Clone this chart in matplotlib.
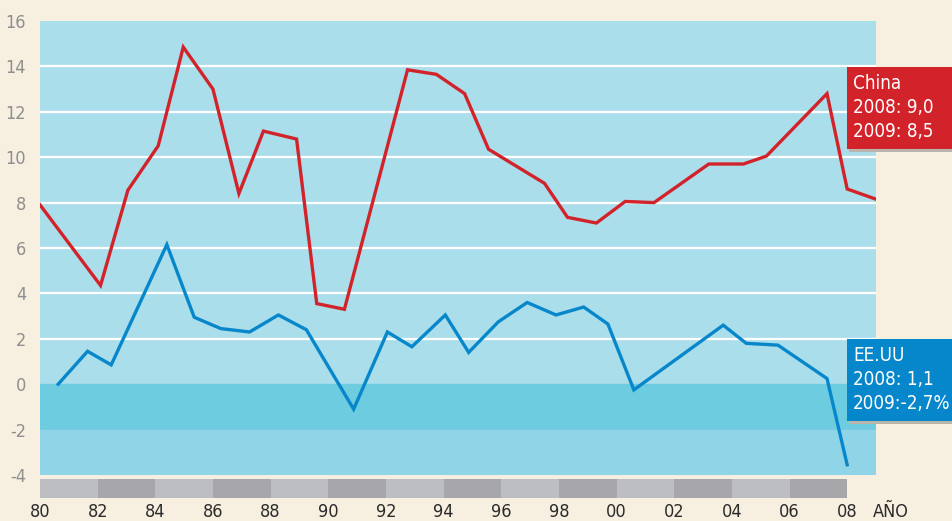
import matplotlib
matplotlib.use('Agg')
import matplotlib.pyplot as plt
from matplotlib.patches import Rectangle

# China: fractional year, growth %
china_x = [1980.0, 1982.1, 1983.05, 1984.1, 1984.97, 1986.0, 1986.9, 1987.75, 1988.9,
           1989.6, 1990.56, 1992.75, 1993.75, 1994.73, 1995.56, 1997.5, 1998.3, 1999.3,
           2000.3, 2001.3, 2003.2, 2004.4, 2005.2, 2007.3, 2008.0, 2009.0]
china_y = [7.9, 4.35, 8.55, 10.5, 14.85, 13.0, 8.4, 11.15, 10.8,
           3.55, 3.3, 13.85, 13.65, 12.8, 10.35, 8.85, 7.35, 7.1,
           8.05, 8.0, 9.7, 9.7, 10.05, 12.8, 8.6, 8.15]

# EE.UU
usa_x = [1980.63, 1981.65, 1982.47, 1984.4, 1985.35, 1986.27, 1987.27, 1988.27, 1989.24,
         1990.88, 1992.05, 1992.9, 1994.06, 1994.87, 1995.9, 1996.9, 1997.9, 1998.86,
         1999.7, 2000.6, 2003.7, 2004.5, 2005.6, 2007.3, 2008.0]
usa_y = [0.0, 1.45, 0.85, 6.15, 2.95, 2.45, 2.3, 3.05, 2.4,
         -1.1, 2.3, 1.65, 3.05, 1.4, 2.75, 3.6, 3.05, 3.4,
         2.65, -0.25, 2.6, 1.8, 1.72, 0.25, -3.55]

year_ticks = list(range(1980, 2009, 2))
year_labels = ['80', '82', '84', '86', '88', '90', '92', '94', '96', '98',
               '00', '02', '04', '06', '08']
y_ticks = [-4, -2, 0, 2, 4, 6, 8, 10, 12, 14, 16]

china_label = 'China\n2008: 9,0\n2009: 8,5'
usa_label = 'EE.UU\n2008: 1,1\n2009:-2,7%'

W, H = 952, 521
bg = '#F7EFE0'
red = '#D2232A'
blue = '#0787CB'
font = dict(family='DejaVu Sans', stretch='condensed')

fig = plt.figure(figsize=(W / 100, H / 100), dpi=100, facecolor=bg)

ax = fig.add_axes([40 / W, (H - 475) / H, 836 / W, 454 / H])
ax.set_xlim(1980, 2009)
ax.set_ylim(-4, 16)
ax.set_facecolor('#ABDEEB')
ax.axhspan(-2, 0, color='#6ECCE0', zorder=0)
ax.axhspan(-4, -2, color='#90D4E8', zorder=0)
for v in range(2, 16, 2):
    ax.axhline(v, color='white', lw=1.6, zorder=1)
for s in ax.spines.values():
    s.set_visible(False)
ax.set_xticks([])
ax.set_yticks(y_ticks)
ax.set_yticklabels([str(v) for v in y_ticks], fontsize=13, color='#8E8E8E', **font)
ax.tick_params(axis='y', length=0, pad=10)

ax.plot(china_x, china_y, color=red, lw=2.4, zorder=3, solid_joinstyle='miter')
ax.plot(usa_x, usa_y, color=blue, lw=2.4, zorder=3, solid_joinstyle='miter')

# year strip
sx = fig.add_axes([40 / W, (H - 498) / H, 836 / W, 19 / H])
sx.set_xlim(1980, 2009)
sx.set_ylim(0, 1)
sx.axis('off')
for i, yr in enumerate(year_ticks[:-1]):
    c = '#BDBEC2' if i % 2 == 0 else '#A7A7AB'
    sx.add_patch(Rectangle((yr, 0), 2, 1, color=c, lw=0))
for yr, lab in zip(year_ticks, year_labels):
    sx.text(yr, -0.25, lab, ha='center', va='top', fontsize=13, color='#2A2A2A', **font)
sx.text(2009.5, -0.25, 'AÑO', ha='center', va='top', fontsize=13, color='#2A2A2A', **font)

# label boxes
def label_box(y_top, y_bot, color, text):
    fig.patches.append(Rectangle((849 / W, (H - y_bot - 3) / H), 110 / W, (y_bot - y_top) / H,
                                 transform=fig.transFigure, color='#B9B4AC', lw=0, zorder=4))
    fig.patches.append(Rectangle((847 / W, (H - y_bot) / H), 110 / W, (y_bot - y_top) / H,
                                 transform=fig.transFigure, color=color, lw=0, zorder=5))
    fig.text(853 / W, (H - y_top - 7) / H, text, ha='left', va='top',
             fontsize=13.5, color='white', linespacing=1.32, zorder=6, **font)

label_box(67, 149, red, china_label)
label_box(339, 421, blue, usa_label)

fig.savefig('out.png', dpi=100, facecolor=bg)
